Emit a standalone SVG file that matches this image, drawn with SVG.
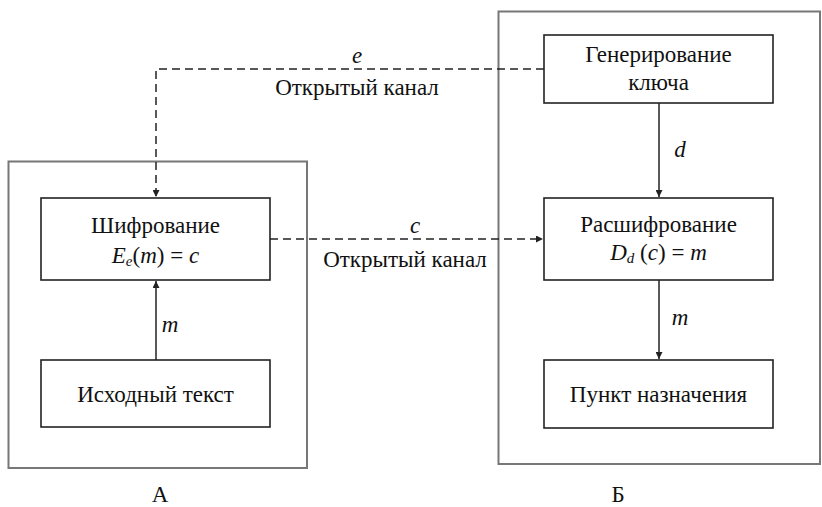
<svg xmlns="http://www.w3.org/2000/svg" width="822" height="507" viewBox="0 0 822 507">
<style>
.outer{fill:none;stroke:#777;stroke-width:2}
.box{fill:#fff;stroke:#222;stroke-width:1.6}
.ln{fill:none;stroke:#222;stroke-width:1.5}
.dash{stroke-dasharray:8 5}
.t{font-family:'Liberation Serif',serif;font-size:23px;fill:#111;text-anchor:middle}
.i{font-style:italic}
</style>
<defs>
<marker id="ah" viewBox="0 0 10 10" refX="10" refY="5" markerWidth="7" markerHeight="7" markerUnits="userSpaceOnUse" orient="auto"><path d="M0,0L10,5L0,10z" fill="#222"/></marker>
</defs>
<rect id="groupA" class="outer" x="8.5" y="161.5" width="298.5" height="306.5"/>
<rect id="groupB" class="outer" x="498.5" y="11.5" width="321.5" height="452.5"/>
<g id="connectors">
<path class="ln dash" d="M544,69H156V197" marker-end="url(#ah)"/>
<path class="ln dash" d="M270,239H543" marker-end="url(#ah)"/>
<path class="ln" d="M156,360V281" marker-end="url(#ah)"/>
<path class="ln" d="M659,103V197" marker-end="url(#ah)"/>
<path class="ln" d="M659,280V359" marker-end="url(#ah)"/>
<text class="t i" x="357" y="63">e</text>
<text class="t" x="357" y="95">Открытый канал</text>
<text class="t i" x="415" y="233">c</text>
<text class="t" x="405" y="267">Открытый канал</text>
<text class="t i" x="170" y="332">m</text>
<text class="t i" x="680" y="157">d</text>
<text class="t i" x="680" y="325">m</text>
</g>
<g id="encrypt">
<rect class="box" x="41" y="198" width="229" height="82"/>
<text class="t" x="155.5" y="233">Шифрование</text>
<text class="t i" x="155.5" y="263">E<tspan font-size="15" dy="3">e</tspan><tspan font-style="normal" dy="-3">(</tspan>m<tspan font-style="normal">) = </tspan>c</text>
</g>
<g id="source">
<rect class="box" x="41" y="360" width="229" height="67"/>
<text class="t" x="155.5" y="402">Исходный текст</text>
</g>
<g id="keygen">
<rect class="box" x="544" y="35" width="229" height="68"/>
<text class="t" x="658.5" y="62">Генерирование</text>
<text class="t" x="658.5" y="90">ключа</text>
</g>
<g id="decrypt">
<rect class="box" x="544" y="198" width="229" height="82"/>
<text class="t" x="658.5" y="232">Расшифрование</text>
<text class="t i" x="658.5" y="260">D<tspan font-size="15" dy="3">d</tspan><tspan font-style="normal" dy="-3"> (</tspan>c<tspan font-style="normal">) = </tspan>m</text>
</g>
<g id="dest">
<rect class="box" x="544" y="360" width="229" height="68"/>
<text class="t" x="658.5" y="402">Пункт назначения</text>
</g>
<text class="t" font-size="22" x="160" y="502">А</text>
<text class="t" font-size="22" x="618" y="502">Б</text>
</svg>
